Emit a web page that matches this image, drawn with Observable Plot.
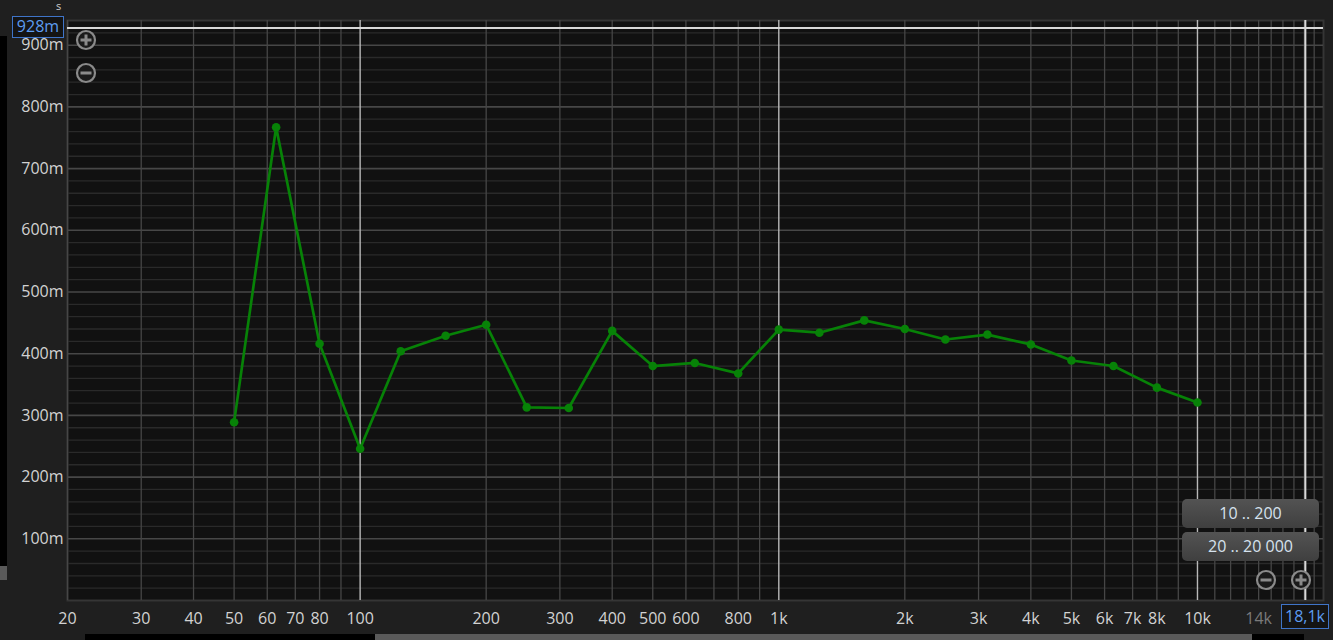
<!DOCTYPE html>
<html>
<head>
<meta charset="utf-8">
<script src="https://cdn.jsdelivr.net/npm/d3@7"></script>
<script src="https://cdn.jsdelivr.net/npm/@observablehq/plot@0.6"></script>
<style>
  html, body { margin: 0; padding: 0; background: #1f1f1f; width: 1333px; height: 640px; overflow: hidden; }
  #wrap { position: relative; width: 1333px; height: 640px; font-family: "Open Sans", "Noto Sans", sans-serif; }
  #chart { position: absolute; left: 0; top: 0; }
  .ov { position: absolute; }
  .btn { position: absolute; left: 1182px; width: 137px; height: 29px; border-radius: 5px;
         background: linear-gradient(#535353, #3f3f3f); color: #d6e2ee; font-size: 16px;
         line-height: 29px; text-align: center; }
  .vbox { position: absolute; border: 1.5px solid #3f74c8; color: #5d9cf0; font-size: 16px;
          background: #141414; text-align: center; box-sizing: border-box; }
</style>
</head>
<body>
<div id="wrap">
  <div id="chart"></div>
</div>
<script>
// ---- data (1/3-octave bands, reverberation time in seconds) ----
const bandHz = [50, 63, 80, 100, 125, 160, 200, 250, 315, 400, 500, 630, 800, 1000, 1250, 1600, 2000, 2500, 3150, 4000, 5000, 6300, 8000, 10000];
const timeSec = [0.289, 0.767, 0.416, 0.246, 0.404, 0.429, 0.447, 0.313, 0.312, 0.437, 0.380, 0.385, 0.368, 0.439, 0.434, 0.454, 0.440, 0.423, 0.431, 0.415, 0.389, 0.380, 0.345, 0.321];

// ---- axis ticks ----
const xTickLabels = [20, 30, 40, 50, 60, 70, 80, 100, 200, 300, 400, 500, 600, 800, 1000, 2000, 3000, 4000, 5000, 6000, 7000, 8000, 10000];
const xDimLabels = [14000];
const yTickLabels = [0.1, 0.2, 0.3, 0.4, 0.5, 0.6, 0.7, 0.8, 0.9];
const xDecadeLines = [100, 1000, 10000];
const xMinorLines = [20, 30, 40, 50, 60, 70, 80, 90, 200, 300, 400, 500, 600, 700, 800, 900,
  2000, 3000, 4000, 5000, 6000, 7000, 8000, 9000,
  11000, 12000, 13000, 14000, 15000, 16000, 17000, 18000, 19000];
const yMinorLines = [0.02, 0.04, 0.06, 0.08, 0.12, 0.14, 0.16, 0.18, 0.22, 0.24, 0.26, 0.28, 0.32, 0.34, 0.36, 0.38,
  0.42, 0.44, 0.46, 0.48, 0.52, 0.54, 0.56, 0.58, 0.62, 0.64, 0.66, 0.68, 0.72, 0.74, 0.76, 0.78,
  0.82, 0.84, 0.86, 0.88, 0.92];
const cursorY = [0.928];
const cursorX = [18100];

const data = bandHz.map((f, i) => ({ f, t: timeSec[i] }));
const fmtHz = d => d >= 1000 ? (d / 1000) + "k" : String(d);
const fmtS = d => Math.round(d * 1000) + "m";

const chart = Plot.plot({
  width: 1333,
  height: 640,
  marginLeft: 67,
  marginRight: 10,
  marginTop: 20,
  marginBottom: 40,
  style: { background: "transparent", fontFamily: "'Open Sans', 'Noto Sans', sans-serif", fontSize: "16px" },
  x: { type: "log", domain: [20, 20000], axis: null },
  y: { domain: [0, 0.94], axis: null },
  marks: [
    Plot.frame({ fill: "#111111", stroke: "#353535", strokeWidth: 2 }),
    Plot.ruleY(yMinorLines, { stroke: "#2a2a2a", strokeWidth: 1.3 }),
    Plot.ruleY(yTickLabels, { stroke: "#474747", strokeWidth: 1.6 }),
    Plot.ruleX(xMinorLines, { stroke: "#464646", strokeWidth: 1.3 }),
    Plot.ruleX(xDecadeLines, { stroke: "#b8b8b8", strokeWidth: 1.4 }),
    Plot.ruleY(cursorY, { stroke: "#d8d8d8", strokeWidth: 2 }),
    Plot.ruleX(cursorX, { stroke: "#d8d8d8", strokeWidth: 2 }),
    Plot.line(data, { x: "f", y: "t", stroke: "#078207", strokeWidth: 2.7 }),
    Plot.dot(data, { x: "f", y: "t", fill: "#078207", r: 4.3 }),
    Plot.text(yTickLabels, { y: d => d, frameAnchor: "left", textAnchor: "end", dx: -4, text: fmtS, fill: "#d2d2d2", fontSize: 16 }),
    Plot.text(xTickLabels, { x: d => d, frameAnchor: "bottom", lineAnchor: "middle", dy: 18, text: fmtHz, fill: "#d2d2d2", fontSize: 16 }),
    Plot.text(xDimLabels, { x: d => d, frameAnchor: "bottom", lineAnchor: "middle", dy: 18, text: fmtHz, fill: "#7a7a7a", fontSize: 16 })
  ]
});
document.getElementById("chart").appendChild(chart);

// ---- UI decorations around the chart ----
const wrap = document.getElementById("wrap");
function add(html) { wrap.insertAdjacentHTML("beforeend", html); }
function icon(cx, cy, plus) {
  const bar = plus ? '<line x1="5.5" y1="11" x2="16.5" y2="11" stroke="#8a8a8a" stroke-width="3"/><line x1="11" y1="5.5" x2="11" y2="16.5" stroke="#8a8a8a" stroke-width="3"/>'
                   : '<line x1="5.5" y1="11" x2="16.5" y2="11" stroke="#8a8a8a" stroke-width="3"/>';
  add(`<svg class="ov" style="left:${cx - 11}px;top:${cy - 11}px" width="22" height="22"><circle cx="11" cy="11" r="9" fill="#1a1a1a" stroke="#8a8a8a" stroke-width="2.2"/>${bar}</svg>`);
}
icon(86, 40, true);
icon(86, 73, false);
icon(1266, 580, false);
icon(1301, 580, true);

add('<div class="btn" style="top:499px">10 .. 200</div>');
add('<div class="btn" style="top:532px">20 .. 20 000</div>');

add('<div class="vbox" style="left:12px;top:16px;width:52px;height:22px;line-height:19px">928m</div>');
add('<div class="vbox" style="left:1281px;top:604px;width:48px;height:25px;line-height:22px">18,1k</div>');

add('<div class="ov" style="left:56px;top:0px;color:#cfcfcf;font-size:11px;line-height:11px">s</div>');

// scrollbars
add('<div class="ov" style="left:0;top:36px;width:7px;height:530px;background:#000"></div>');
add('<div class="ov" style="left:0;top:566px;width:7px;height:14px;background:#5a5a5a"></div>');
add('<div class="ov" style="left:85px;top:634px;width:290px;height:6px;background:#000"></div>');
add('<div class="ov" style="left:375px;top:634px;width:877px;height:6px;background:#5a5a5a"></div>');
add('<div class="ov" style="left:1252px;top:634px;width:52px;height:6px;background:#000"></div>');
</script>
</body>
</html>
